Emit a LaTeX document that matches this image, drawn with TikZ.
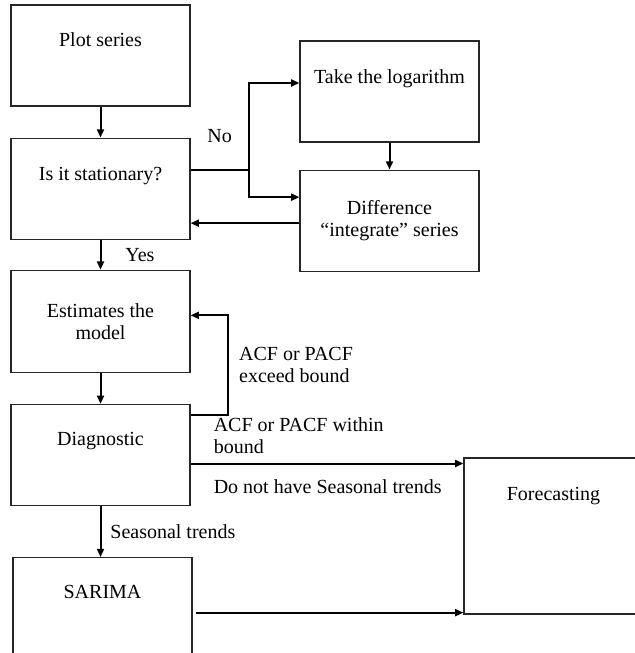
\documentclass[tikz,border=0pt]{standalone}
\usepackage{fontspec}
\setmainfont{Liberation Serif}
\usetikzlibrary{arrows.meta, positioning, calc}

\begin{document}
\begin{tikzpicture}[>={Triangle[length=5pt, width=4.2pt]}, x=0.6pt, y=-0.6pt, line width=1.2pt,
  node distance=18.6pt, font=\rmfamily\fontsize{12pt}{13.2pt}\selectfont,
  box/.style={draw=black!85, line width=0.7pt, minimum width=107.4pt,
    minimum height=60.6pt, align=center}]

\path[use as bounding box, clip] (0,0) rectangle (635,653);

% define the boxes of the flow
  \node[box, text depth=19pt]    (plot) at (100.5,55.5)
{Plot series};
  \node[box, text depth=17.6pt]  (stat)   [below=of plot]
{Is it stationary?};
  \node[box, minimum height=61.2pt]  (est)  [below=18pt of stat]
{Estimates the\\model};
  \node[box, text depth=19pt]  (diag)   [below=of est]
{Diagnostic};
  \node[box, text depth=19pt]  (sarima)  [below=30.6pt of diag, xshift=1.2pt]
{SARIMA};
  \node[box, text depth=17.6pt]  (log) at (389.5,91.5)
{Take the logarithm};
  \node[box]  (diff)  [below=16.2pt of log]
{Difference\\“integrate” series};
  \node[box, minimum height=93.6pt, text depth=50pt]  (fore) at (553.5,536)
{Forecasting};

% define the turning points
  \coordinate (split) at ($(stat.east)+(58,-19)$);
  \coordinate (back) at ($(diff.west)+(0,2.5)$);
  \coordinate (fb) at ($(diag.east)+(37,-40.5)$);
  \coordinate (ok) at ($(diag.east)+(0,8.5)$);
  \coordinate (sa) at ($(sarima.east)+(3,4.5)$);

% define the links
  \path[->] (plot) edge (stat)
        (stat) edge node[right, xshift=11pt] {Yes} (est)
        (est) edge (diag)
        (log) edge (diff);

  \draw ($(stat.east)+(0,-19)$) -- node[above=12pt] {No} (split);
  \draw[->] (split) |- ($(log.west)+(0,-8.5)$);
  \draw[->] (split) |- ($(diff.west)+(0,-23.5)$);
  \draw[->] (back) -- (back -| stat.east);

  \draw[->] ($(diag.east)+(0,-40.5)$) -- (fb) |- node[pos=0.25, right, xshift=3pt, align=left]
    {ACF or PACF\\exceed bound} ($(est.east)+(0,-6)$);
  \draw[->] (ok) -- node[pos=0, above right, xshift=10pt, yshift=2pt, align=left]
    {ACF or PACF within\\bound}
    node[pos=0, below right, xshift=10pt, yshift=-6pt] {Do not have Seasonal trends} (ok -| fore.west);
  \draw[->] (diag.south) -- node[right, xshift=2pt] {Seasonal trends} (diag.south |- sarima.north);
  \draw[->] (sa) -- (sa -| fore.west);

\end{tikzpicture}
\end{document}
